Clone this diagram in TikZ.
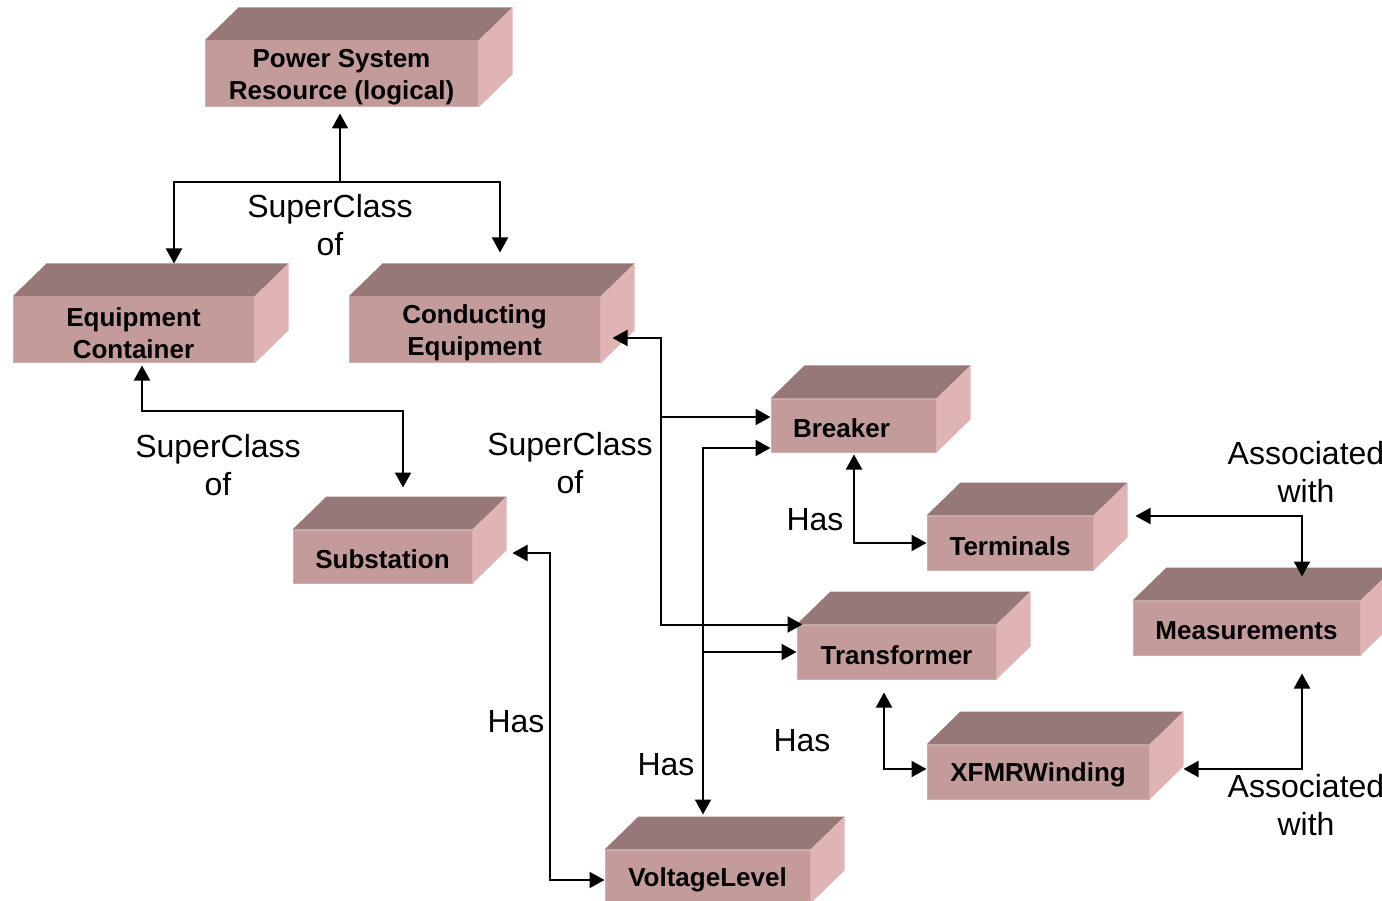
\documentclass[tikz,border=0pt]{standalone}
\usepackage{fontspec}
\setmainfont{Liberation Sans}
\usetikzlibrary{calc,arrows.meta}
\definecolor{frontc}{HTML}{C49B9B}
\definecolor{topc}{HTML}{967878}
\definecolor{sidec}{HTML}{E0B4B4}
\definecolor{edgec}{HTML}{D4ACAC}
\newcommand\boxfaces[1]{%
  \fill[topc] (#1.north west) -- ++(34,-33) -- ($(#1.north east)+(34,-33)$) -- (#1.north east) -- cycle;
  \fill[sidec] (#1.north east) -- ++(34,-33) -- ($(#1.south east)+(34,-33)$) -- (#1.south east) -- cycle;}
\begin{document}
\begin{tikzpicture}[x=1pt,y=-1pt,
  cls/.style={rectangle, fill=frontc, draw=edgec, line width=1pt, inner sep=0pt},
  txt/.style={align=center, inner sep=0pt, yshift=-3pt,
    font=\bfseries\fontsize{26}{32}\selectfont},
  lbl/.style={align=center, font=\fontsize{32}{38}\selectfont, inner sep=0pt},
  conn/.style={line width=2pt},
  >={Triangle[length=15pt,width=16pt]}]
\useasboundingbox (0,0) rectangle (1382,901);
% boxes (front faces)
\node[cls, minimum width=273, minimum height=66, label={[txt]center:{Power System\\Resource (logical)}}] (psr) at (341.5,74) {};
\node[cls, minimum width=241, minimum height=66, label={[txt]center:{Equipment\\Container}}] (ec) at (133.5,330) {};
\node[cls, minimum width=251, minimum height=66, label={[txt]center:{Conducting\\Equipment}}] (ce) at (474.5,330) {};
\node[cls, minimum width=165, minimum height=53, label={[txt, xshift=-12pt]center:Breaker}] (br) at (853.5,425.5) {};
\node[cls, minimum width=166, minimum height=54, label={[txt]center:Terminals}] (te) at (1010,543) {};
\node[cls, minimum width=227, minimum height=54, label={[txt]center:Measurements}] (me) at (1246.5,628) {};
\node[cls, minimum width=179, minimum height=53, label={[txt]center:Substation}] (su) at (382.5,556.5) {};
\node[cls, minimum width=199, minimum height=54, label={[txt]center:Transformer}] (tr) at (896.5,652) {};
\node[cls, minimum width=222, minimum height=54, label={[txt]center:XFMRWinding}] (xf) at (1038,772) {};
\node[cls, minimum width=205, minimum height=53, label={[txt]center:VoltageLevel}] (vl) at (707.5,876.5) {};
\foreach \n in {psr,ec,ce,br,te,me,su,tr,xf,vl}{\boxfaces{\n}}
% connector end points
\coordinate (j1) at (340,182);
\coordinate (psrT) at ($(psr.south)+(-1.5,6)$);
\coordinate (ecT) at ($(ec.north)+(40.5,-33)$);
\coordinate (ceT) at ($(ce.north)+(25.5,-44)$);
\coordinate (ecB) at ($(ec.south)+(8.5,2)$);
\coordinate (suT) at ($(su.north)+(20.5,-42)$);
\coordinate (ceR) at ($(ce.east)+(12,8)$);
\coordinate (brL1) at ($(br.west)+(0,-8.5)$);
\coordinate (brL2) at ($(br.west)+(0,22.5)$);
\coordinate (trL1) at ($(tr.north west)+(6,0)$);
\coordinate (suR) at ($(su.east)+(40,-3.5)$);
\coordinate (vlL) at ($(vl.west)+(0,3.5)$);
\coordinate (vlT) at ($(vl.north)+(-4.5,-35)$);
\coordinate (brB) at ($(br.south)+(0.5,2)$);
\coordinate (trB) at ($(tr.south)+(-12.5,13)$);
\coordinate (xfL) at ($(xf.west)+(0,-3)$);
\coordinate (teR) at ($(te.east)+(42,-27)$);
\coordinate (meT) at ($(me.north)+(55.5,-24)$);
\coordinate (xfR) at ($(xf.east)+(34,-3)$);
\coordinate (meB) at ($(me.south)+(55.5,18)$);
% connectors
\draw[conn,->] (j1) -- (psrT);
\draw[conn,<->] (ecT) |- (j1) -| (ceT);
\draw[conn,<->] (ecB) -- ++(0,45) -| (suT);
\draw[conn,<->] (ceR) -- ++(48,0) coordinate (cej) |- (trL1);
\draw[conn,->] (cej |- brL1) -- (brL1);
\draw[conn,<->] (suR) -- ++(37,0) |- (vlL);
\draw[conn,<->] (brL2) -| (vlT);
\draw[conn,->] (vlT |- tr.west) -- (tr.west);
\draw[conn,<->] (brB) |- (te.west);
\draw[conn,<->] (trB) |- (xfL);
\draw[conn,<->] (teR) -| (meT);
\draw[conn,<->] (xfR) -| (meB);
% labels
\node[lbl] (l1) at (330,225) {SuperClass\\of};
\node[lbl] (l2) at (218,465) {SuperClass\\of};
\node[lbl] (l3) at (570,463) {SuperClass\\of};
\node[lbl] (l4) at (516,722) {Has};
\node[lbl] (l5) at (666,765) {Has};
\node[lbl] (l6) at (815,520) {Has};
\node[lbl] (l7) at (802,741) {Has};
\node[lbl] (l8) at (1306,472) {Associated\\with};
\node[lbl] (l9) at (1306,805) {Associated\\with};
\end{tikzpicture}
\end{document}
